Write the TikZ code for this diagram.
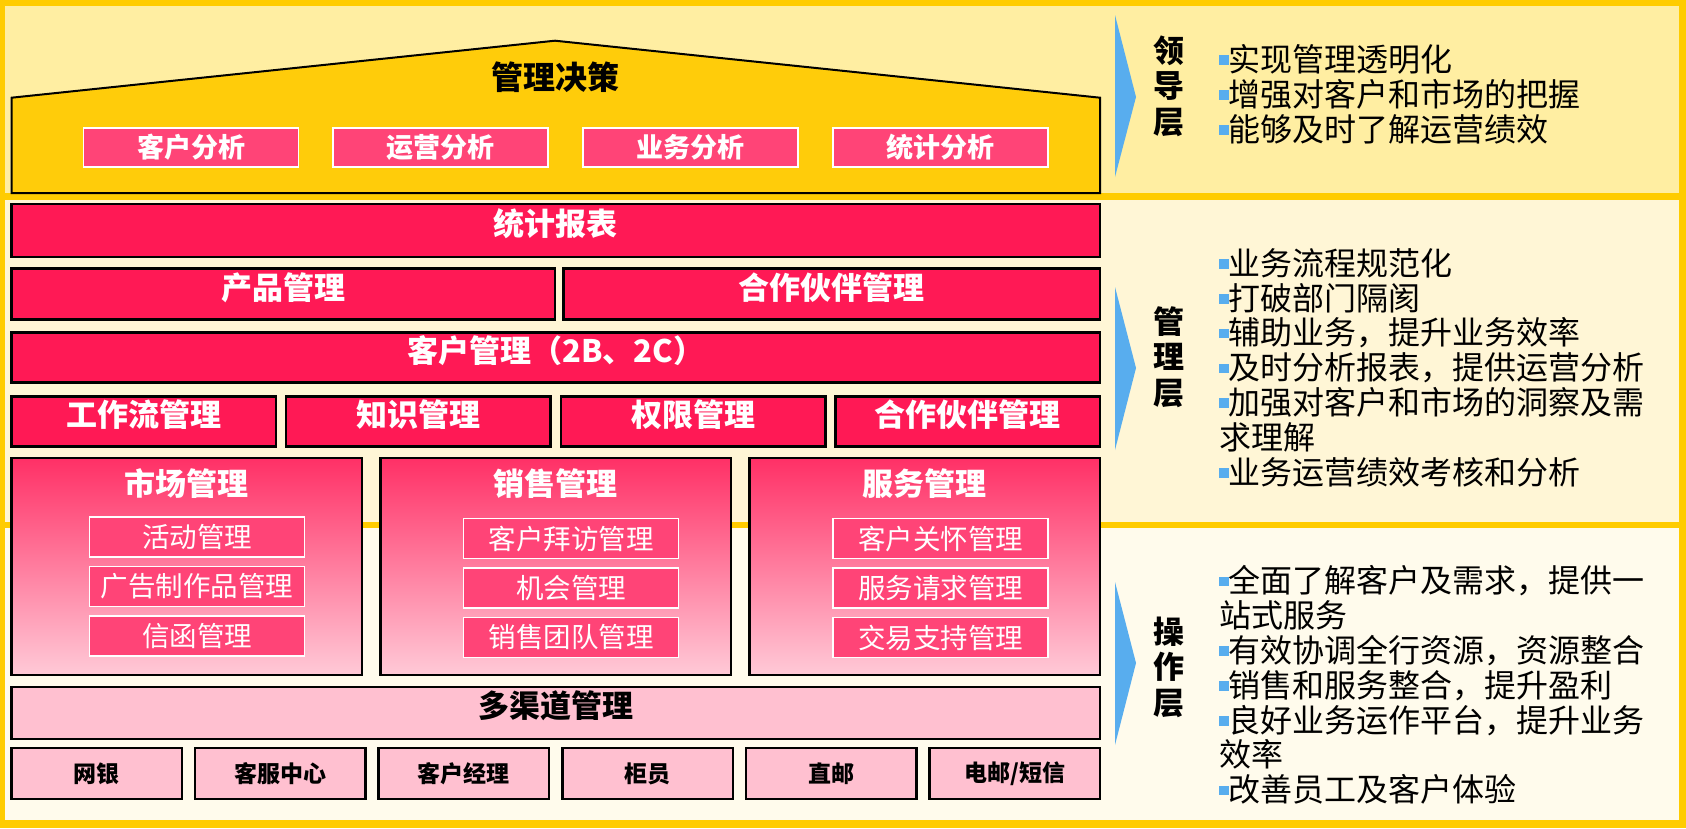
\documentclass[tikz,border=0pt]{standalone}
\usepackage{fontspec}
\setmainfont{Noto Sans CJK SC}

\definecolor{frameyellow}{HTML}{FFCC00}
\definecolor{topband}{HTML}{FFEEA2}
\definecolor{midband}{HTML}{FFF6D6}
\definecolor{lowband}{HTML}{FFFBEC}
\definecolor{housegold}{HTML}{FFCC0A}
\definecolor{barred}{HTML}{FF1955}
\definecolor{subpink}{HTML}{FF4477}
\definecolor{lightpink}{HTML}{FFC0D0}
\definecolor{arrowblue}{HTML}{58ADEE}

\newcommand{\sqbullet}{{\color{arrowblue}\rule[0.2em]{0.3em}{0.3em}}}

\tikzset{
    bar/.style={draw=black, line width=2.5pt, fill=barred, inner sep=0pt},
    bartext/.style={text=white, inner sep=0pt, font=\fontsize{31pt}{31pt}\selectfont\bfseries},
    anabox/.style={draw=white, line width=1.5pt, fill=subpink, text=white, inner sep=0pt,
        minimum width=215pt, minimum height=39pt, font=\fontsize{27pt}{27pt}\selectfont\bfseries},
    groupbox/.style={draw=black, line width=2.5pt, top color=barred!90!white, bottom color=lightpink!85!white,
        inner sep=0pt, minimum width=350.5pt, minimum height=217pt},
    subbox/.style={draw=white, line width=1.5pt, fill=subpink, text=white, inner sep=0pt,
        minimum width=215pt, minimum height=40pt, font=\fontsize{27.5pt}{27.5pt}\selectfont},
    lightbox/.style={draw=black, line width=2.5pt, fill=lightpink, inner sep=0pt},
    chantext/.style={text=black, font=\fontsize{23pt}{23pt}\selectfont\bfseries},
    layertext/.style={align=center, inner sep=0pt, font=\fontsize{31pt}{35.5pt}\selectfont\bfseries},
    bullettext/.style={align=left, inner sep=0pt, anchor=west, font=\fontsize{32pt}{34.8pt}\selectfont}
}

\begin{document}
\begin{tikzpicture}[x=1pt, y=-1pt]
    \useasboundingbox (0,0) rectangle (1686,828);
    % frame and the three bands
    \fill[frameyellow] (0,0) rectangle (1686,828);
    \fill[topband] (4.6,6) rectangle (1679,193);
    \fill[midband] (4.6,200) rectangle (1679,522);
    \fill[lowband] (4.6,528) rectangle (1679,820);

    % roof
    \draw[fill=housegold, line width=2pt] (11.5,193) -- (11.5,97.7) -- (555,40.7) -- (1100,97.7) -- (1100,193) -- cycle;
    \node[text=black, font=\fontsize{32pt}{32pt}\selectfont\bfseries] (decision) at (555,77) {管理决策};
    \foreach \x/\t [count=\i] in {191/客户分析, 440.5/运营分析, 690.5/业务分析, 940.5/统计分析}
        \node[anabox] (ana\i) at (\x,147.5) {\t};

    % management bars
    \node[bar, minimum width=1088.5pt, minimum height=53pt] (stat) at (555.75,230.5) {};
    \node[bartext] (stattext) at ([yshift=7pt]stat.center) {统计报表};
    \node[bar, minimum width=543.5pt, minimum height=51pt] (prod) at (283.25,293.8) {};
    \node[bartext] (prodtext) at ([yshift=6pt]prod.center) {产品管理};
    \node[bar, minimum width=536.6pt, minimum height=51pt] (partner) at (831.7,293.8) {};
    \node[bartext] (partnertext) at ([yshift=6pt]partner.center) {合作伙伴管理};
    \node[bar, minimum width=1088.5pt, minimum height=50pt] (cust) at (555.75,357.7) {};
    \node[bartext] (custtext) at ([yshift=7pt]cust.center) {客户管理（2B、2C）};
    \foreach \x/\t [count=\i] in {143.75/工作流管理, 418.45/知识管理, 693.1/权限管理, 967.75/合作伙伴管理} {
        \node[bar, minimum width=264.5pt, minimum height=50pt] (tool\i) at (\x,421.7) {};
        \node[bartext] (tooltext\i) at ([yshift=7pt]tool\i.center) {\t};
    }

    % operation groups
    \node[groupbox] (mkt) at (186.75,566.5) {};
    \node[bartext] (mkttitle) at (186.75,484) {市场管理};
    \node[subbox] (mkt1) at (197,537) {活动管理};
    \node[subbox] (mkt2) at (197,586.5) {广告制作品管理};
    \node[subbox] (mkt3) at (197,636) {信函管理};
    \node[groupbox] (sale) at (555.75,566.5) {};
    \node[bartext] (saletitle) at (555.75,484) {销售管理};
    \node[subbox] (sale1) at (571,538.5) {客户拜访管理};
    \node[subbox] (sale2) at (571,588) {机会管理};
    \node[subbox] (sale3) at (571,637.5) {销售团队管理};
    \node[groupbox] (serv) at (924.75,566.5) {};
    \node[bartext] (servtitle) at (924.75,484) {服务管理};
    \node[subbox] (serv1) at (940.5,538.5) {客户关怀管理};
    \node[subbox] (serv2) at (940.5,588) {服务请求管理};
    \node[subbox] (serv3) at (940.5,637.5) {交易支持管理};

    % channels
    \node[lightbox, minimum width=1088.5pt, minimum height=52pt] (multi) at (555.75,713) {};
    \node[bartext, text=black] (multitext) at ([yshift=7pt]multi.center) {多渠道管理};
    \foreach \t [count=\i] in {网银, 客服中心, 客户经理, 柜员, 直邮, 电邮/短信}
        \node[lightbox, chantext, minimum width=170.5pt, minimum height=51pt] (chan\i) at (11.5+85.25+183.6*\i-183.6,773.5) {\t};

    % blue arrows
    \fill[arrowblue] (1115,15) -- (1136,97) -- (1115,177) -- cycle;
    \fill[arrowblue] (1115,287) -- (1136,368) -- (1115,450) -- cycle;
    \fill[arrowblue] (1115,582) -- (1136,663) -- (1115,745) -- cycle;

    % layer names and goals
    \node[layertext] (lead) at (1169,86) {领\\导\\层};
    \node[layertext] (manage) at (1169,357) {管\\理\\层};
    \node[layertext] (oper) at (1169,667) {操\\作\\层};
    \node[bullettext] (leadlist) at (1219,94) {\sqbullet 实现管理透明化\\\sqbullet 增强对客户和市场的把握\\\sqbullet 能够及时了解运营绩效};
    \node[bullettext] (managelist) at (1219,367.5) {\sqbullet 业务流程规范化\\\sqbullet 打破部门隔阂\\\sqbullet 辅助业务，提升业务效率\\\sqbullet 及时分析报表，提供运营分析\\\sqbullet 加强对客户和市场的洞察及需\\求理解\\\sqbullet 业务运营绩效考核和分析};
    \node[bullettext] (operlist) at (1219,685) {\sqbullet 全面了解客户及需求，提供一\\站式服务\\\sqbullet 有效协调全行资源，资源整合\\\sqbullet 销售和服务整合，提升盈利\\\sqbullet 良好业务运作平台，提升业务\\效率\\\sqbullet 改善员工及客户体验};
\end{tikzpicture}
\end{document}
